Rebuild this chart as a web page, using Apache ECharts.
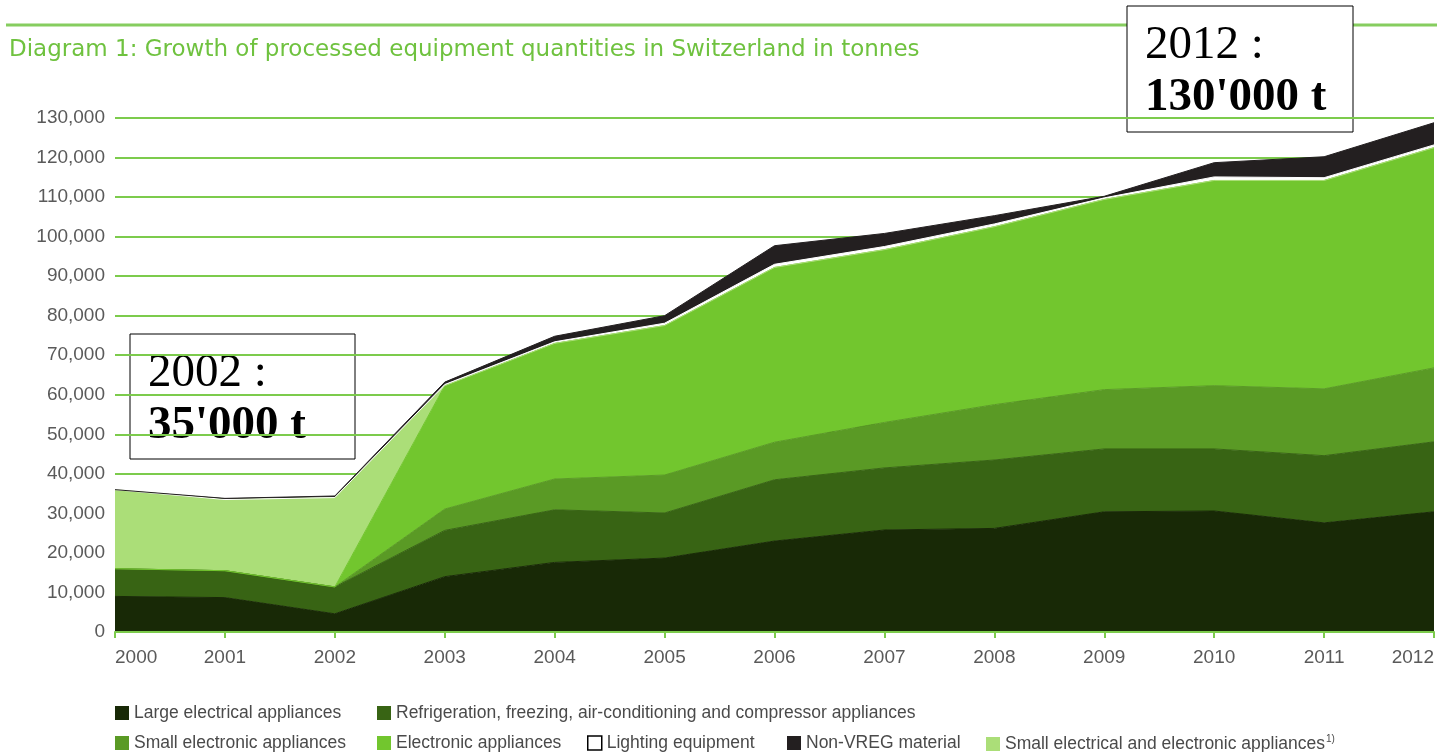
<!DOCTYPE html>
<html>
<head>
<meta charset="utf-8">
<script src="https://cdn.jsdelivr.net/npm/echarts@6/dist/echarts.min.js"></script>
<style>
  html, body { margin: 0; padding: 0; background: #fff; }
  #chart { width: 1437px; height: 752px; }
</style>
</head>
<body>
<div id="chart"></div>
<script>
const years = ['2000', '2001', '2002', '2003', '2004', '2005', '2006', '2007', '2008', '2009', '2010', '2011', '2012']
const yTicks = [0, 10000, 20000, 30000, 40000, 50000, 60000, 70000, 80000, 90000, 100000, 110000, 120000, 130000]

// tonnes per category, stacked bottom to top
const largeAppliances = [9000, 8700, 4600, 14000, 17600, 18700, 23000, 25800, 26200, 30400, 30600, 27600, 30400]
const refrigeration = [7000, 6800, 6800, 11700, 13300, 11400, 15500, 15700, 17300, 15900, 15700, 17000, 17700]
const smallElectronic = [0, 0, 0, 5400, 7800, 9600, 9500, 11500, 14000, 15000, 16000, 16900, 18700]
const electronic = [0, 0, 0, 31200, 34300, 37800, 44200, 43700, 45000, 48100, 51900, 52700, 55700]
const smallElectrical = [20000, 18000, 22600, 0, 0, 0, 0, 0, 0, 0, 0, 0, 0]
const lighting = [0, 0, 0, 300, 400, 600, 800, 800, 700, 400, 900, 700, 700]
const nonVreg = [0, 300, 400, 600, 1400, 1900, 4700, 3300, 2100, 400, 3600, 5300, 5600]

const chart = echarts.init(document.getElementById('chart'))

const sans = 'Liberation Sans, Arial, sans-serif'
const serif = 'Liberation Serif, Times New Roman, serif'
const labelColor = '#5a5a5a'
const gridGreen = '#7ccb4c'

const makeSeries = (name, data, color) => ({
  name,
  type: 'line',
  stack: 'total',
  data,
  symbol: 'none',
  smooth: false,
  lineStyle: { width: 1, color },
  itemStyle: { color },
  areaStyle: { color, opacity: 1 },
  emphasis: { disabled: true }
})

// one legend per entry so each sits where the original puts it
const legendItem = (name, left, top, extra = {}) => ({
  left,
  top,
  data: [Object.assign({ name }, extra)],
  icon: 'rect',
  itemWidth: 14,
  itemHeight: 14,
  selectedMode: false,
  textStyle: {
    fontFamily: sans,
    fontSize: 17.5,
    color: '#4a4a4a',
    rich: {
      sup: { fontSize: 10, fontFamily: sans, color: '#4a4a4a', padding: [0, 0, 10, 1] }
    }
  },
  formatter: (n) => n === 'Small electrical and electronic appliances' ? n + '{sup|1)}' : n
})

const noteBox = (x, y, w, h, lines, align) => {
  const children = [{
    type: 'rect',
    shape: { x: 0, y: 0, width: w, height: h },
    style: { fill: '#fff', stroke: '#000', lineWidth: 1 }
  }]
  lines.forEach((ln, i) => {
    children.push({
      type: 'text',
      x: align === 'center' ? w / 2 : 18,
      y: 40 + i * 52,
      style: {
        text: ln.text,
        fontFamily: serif,
        fontSize: 47,
        fontWeight: ln.bold ? 'bold' : 'normal',
        fill: '#000',
        textAlign: align,
        textVerticalAlign: 'middle'
      }
    })
  })
  return { type: 'group', x, y, z: 100, children }
}

const option = {
  animation: false,
  backgroundColor: '#fff',
  grid: { left: 115, right: 0, top: 118, bottom: 120 },
  xAxis: {
    type: 'category',
    data: years,
    boundaryGap: false,
    axisLine: { lineStyle: { color: gridGreen, width: 2 } },
    axisTick: { show: true, length: 6, lineStyle: { color: gridGreen, width: 2 } },
    axisLabel: {
      fontFamily: sans,
      fontSize: 19,
      color: labelColor,
      margin: 16,
      alignMinLabel: 'left',
      alignMaxLabel: 'right'
    },
    z: 10
  },
  yAxis: {
    type: 'value',
    min: 0,
    max: yTicks[yTicks.length - 1],
    interval: 10000,
    axisLine: { show: false },
    axisTick: { show: false },
    axisLabel: {
      fontFamily: sans,
      fontSize: 19,
      color: labelColor,
      margin: 10,
      formatter: (v) => v.toLocaleString('en-US')
    },
    splitLine: { lineStyle: { color: gridGreen, width: 2 } }
  },
  legend: [
    legendItem('Large electrical appliances', 110, 699),
    legendItem('Refrigeration, freezing, air-conditioning and compressor appliances', 372, 699),
    legendItem('Small electronic appliances', 110, 729),
    legendItem('Electronic appliances', 372, 729),
    legendItem('Lighting equipment', 582, 729, { itemStyle: { color: '#fff', borderColor: '#000', borderWidth: 1.5 } }),
    legendItem('Non-VREG material', 782, 729),
    legendItem('Small electrical and electronic appliances', 981, 729)
  ],
  series: [
    makeSeries('Large electrical appliances', largeAppliances, '#182906'),
    makeSeries('Refrigeration, freezing, air-conditioning and compressor appliances', refrigeration, '#386414'),
    makeSeries('Small electronic appliances', smallElectronic, '#5a9a25'),
    makeSeries('Electronic appliances', electronic, '#72c62e'),
    makeSeries('Small electrical and electronic appliances', smallElectrical, '#abde78'),
    makeSeries('Lighting equipment', lighting, '#ffffff'),
    makeSeries('Non-VREG material', nonVreg, '#231f20')
  ],
  graphic: [
    {
      type: 'line',
      shape: { x1: 6, y1: 25, x2: 1437, y2: 25 },
      style: { stroke: '#86cd5f', lineWidth: 3 }
    },
    {
      type: 'text',
      x: 9,
      y: 50,
      style: {
        text: 'Diagram 1: Growth of processed equipment quantities in Switzerland in tonnes',
        fontFamily: 'DejaVu Sans, sans-serif',
        fontSize: 23,
        fill: '#6fc23f',
        textVerticalAlign: 'middle'
      }
    },
    noteBox(130, 334, 225, 125, [{ text: '2002 :' }, { text: "35'000 t", bold: true }], 'left'),
    noteBox(1127, 6, 226, 126, [{ text: '2012 :' }, { text: "130'000 t", bold: true }], 'left'),
    noteBox(688, 350, 393, 125, [{ text: 'Espérance de vie :' }, { text: '2-7 ans', bold: true }], 'center')
  ]
}

chart.setOption(option)
</script>
</body>
</html>
